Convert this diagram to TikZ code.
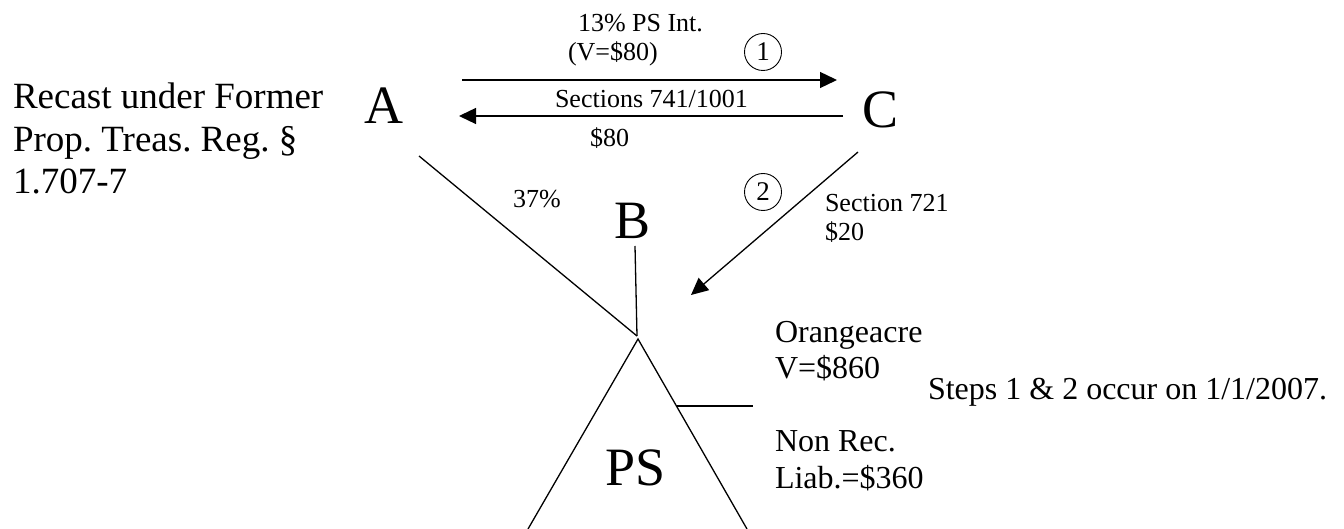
\documentclass[tikz,border=0pt]{standalone}
\usepackage{fontspec}
\setmainfont{Liberation Serif}
\usetikzlibrary{arrows.meta}
\frenchspacing
\begin{document}
\begin{tikzpicture}[x=1pt,y=-1pt,
  every node/.style={inner sep=0pt, outer sep=0pt},
  big/.style={font=\fontsize{54}{60}\selectfont, anchor=base},
  mid/.style={font=\fontsize{32}{37}\selectfont, anchor=base west},
  note/.style={font=\fontsize{37}{43}\selectfont, anchor=base west},
  small/.style={font=\fontsize{26}{30}\selectfont, anchor=base west},
  stepno/.style={draw, circle, line width=0.9pt, minimum size=37pt,
                 font=\fontsize{27}{30}\selectfont},
  ln/.style={line width=1.3pt},
  arr/.style={ln, -{Triangle[length=17pt,width=16pt]}}]
\useasboundingbox (0,0) rectangle (1344,529);

% partners and partnership
\node[big] (A) at (384,124) {A};
\node[big] (B) at (633,239) {B};
\node[big] (C) at (880,128) {C};
\node[big] (PS) at (636,485) {PS};

% ownership lines meeting above the partnership
\coordinate (J) at (637,336);
\coordinate (Aend) at (419,156);
\coordinate (Bend) at (635,246);
\draw[ln] (Aend) -- (J);
\draw[ln] (Bend) -- (J);

% partnership triangle with its asset/liability divider
\coordinate (apex) at (638,339);
\coordinate (baseL) at (528,529);
\coordinate (baseR) at (747,529);
\draw[ln] (baseL) -- (apex) -- (baseR);
\coordinate (divL) at (677,406);
\coordinate (divR) at (753,406);
\draw[ln] (divL) -- (divR);

% step 1: exchange between A and C
\coordinate (a1s) at (462,80);
\coordinate (a1e) at (837,80);
\coordinate (a2s) at (843,116);
\coordinate (a2e) at (459,116);
\draw[arr] (a1s) -- (a1e);
\draw[arr] (a2s) -- (a2e);

% step 2: contribution by C
\coordinate (Cend) at (858,152);
\coordinate (Ctip) at (691,295);
\draw[arr] (Cend) -- (Ctip);

% step markers
\node[stepno] (s1) at (763,52) {1};
\node[stepno] (s2) at (763,192) {2};

% labels
\node[small] (l13) at (578,32) {13\% PS Int.};
\node[small] (lv80) at (568,61) {(V=\$80)};
\node[small] (lsec) at (555,108) {Sections 741/1001};
\node[small] (l80) at (590,147) {\$80};
\node[small] (l37) at (513,208) {37\%};
\node[small] (l721) at (825,212) {Section 721};
\node[small] (l20) at (825,241) {\$20};

\node[note] (r1) at (13,109) {Recast under Former};
\node[note] (r2) at (13,151.5) {Prop. Treas. Reg. §};
\node[note] (r3) at (13,194) {1.707-7};

\node[mid] (o1) at (775,342) {Orangeacre};
\node[mid] (o2) at (775,378) {V=\$860};
\node[mid] (n1) at (775,451) {Non Rec.};
\node[mid] (n2) at (775,488) {Liab.=\$360};

\node[mid] (steps) at (928,399) {Steps 1 \& 2 occur on 1/1/2007.};
\end{tikzpicture}
\end{document}
